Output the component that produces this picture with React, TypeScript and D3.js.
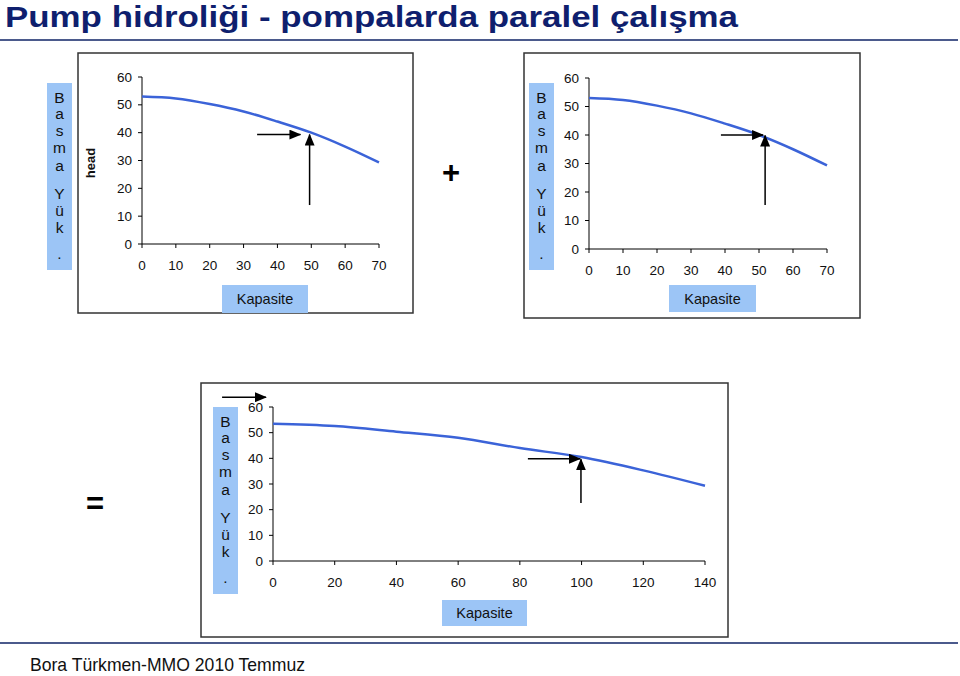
import React from "react";
import * as d3 from "d3";

// ---------- data ----------
const titleText = "Pump hidroliği - pompalarda paralel çalışma";
const footerText = "Bora Türkmen-MMO 2010 Temmuz";
const yLabelChars = ["B", "a", "s", "m", "a", "Y", "ü", "k", "."];
const xLabelText = "Kapasite";
const headText = "head";

const headTicks = [0, 10, 20, 30, 40, 50, 60];
const capTicksSingle = [0, 10, 20, 30, 40, 50, 60, 70];
const capTicksParallel = [0, 20, 40, 60, 80, 100, 120, 140];

const capSingle = [0, 10, 20, 30, 40, 50, 60, 70];
const headSingle = [53, 52.3, 50.3, 47.6, 44, 40, 35, 29.3];

const capParallel = [0, 20, 40, 60, 80, 100, 120, 140];
const headParallel = [53.5, 52.6, 50.4, 48, 44, 40.5, 35.3, 29.3];

// arrows in data coordinates
const arrows1 = [
  { x1: 34, y1: 39.3, x2: 46.8, y2: 39.3 },
  { x1: 49.5, y1: 14, x2: 49.5, y2: 39.3 },
];
const arrows2 = [
  { x1: 38.8, y1: 40, x2: 51.2, y2: 40 },
  { x1: 51.8, y1: 15.4, x2: 51.8, y2: 39.8 },
];
const arrows3 = [
  { x1: 82.6, y1: 39.8, x2: 99.5, y2: 39.8 },
  { x1: 99.8, y1: 22.6, x2: 99.8, y2: 39.6 },
  { x1: -16.5, y1: 63.8, x2: -2.3, y2: 63.8 },
];

// character vertical offsets inside the label box (layout)
const charOffsets = [20, 36, 53, 70, 88, 116, 133, 150, 176];

const FONT = "Arial, 'Liberation Sans', sans-serif";
const BLUE_BOX = "#9cc5f6";
const CURVE = "#3b63d8";

type ChartProps = {
  frame: { x: number; y: number; w: number; h: number };
  xr: [number, number];
  yr: [number, number];
  xMax: number;
  xTicks: number[];
  caps: number[];
  heads: number[];
  arrows: { x1: number; y1: number; x2: number; y2: number }[];
  labelBox: { x: number; y: number; w: number; h: number };
  kapBox: { x: number; y: number; w: number; h: number };
  head?: { x: number; y: number };
  fs: number;
};

function Chart(p: ChartProps) {
  const x = d3.scaleLinear().domain([0, p.xMax]).range(p.xr);
  const y = d3.scaleLinear().domain([0, 60]).range(p.yr);
  const pts: [number, number][] = p.caps.map((c, i) => [c, p.heads[i]]);
  const line = d3
    .line<[number, number]>()
    .x((d) => x(d[0]))
    .y((d) => y(d[1]))
    .curve(d3.curveMonotoneX);
  return (
    <g>
      <rect
        x={p.frame.x}
        y={p.frame.y}
        width={p.frame.w}
        height={p.frame.h}
        fill="white"
        stroke="#333"
        strokeWidth={1.5}
      />
      {/* y axis */}
      <line x1={x(0)} x2={x(0)} y1={y(0)} y2={y(60)} stroke="#000" strokeWidth={1} />
      {headTicks.map((t) => (
        <g key={"y" + t}>
          <line x1={x(0) - 4} x2={x(0)} y1={y(t)} y2={y(t)} stroke="#000" />
          <text
            x={x(0) - 10}
            y={y(t)}
            textAnchor="end"
            dominantBaseline="central"
            fontFamily={FONT}
            fontSize={p.fs}
            fill="#111"
          >
            {t}
          </text>
        </g>
      ))}
      {/* x axis */}
      <line x1={x(0)} x2={x(p.xMax)} y1={y(0)} y2={y(0)} stroke="#000" strokeWidth={1} />
      {p.xTicks.map((t) => (
        <g key={"x" + t}>
          <line x1={x(t)} x2={x(t)} y1={y(0)} y2={y(0) + 4} stroke="#000" />
          <text
            x={x(t)}
            y={y(0) + 21}
            textAnchor="middle"
            dominantBaseline="central"
            fontFamily={FONT}
            fontSize={p.fs}
            fill="#111"
          >
            {t}
          </text>
        </g>
      ))}
      {/* curve */}
      <path d={line(pts) || ""} fill="none" stroke={CURVE} strokeWidth={2.5} />
      {/* arrows */}
      {p.arrows.map((a, i) => (
        <line
          key={"a" + i}
          x1={x(a.x1)}
          y1={y(a.y1)}
          x2={x(a.x2)}
          y2={y(a.y2)}
          stroke="#000"
          strokeWidth={1.5}
          markerEnd="url(#arrowhead)"
        />
      ))}
      {/* vertical label box */}
      <rect x={p.labelBox.x} y={p.labelBox.y} width={p.labelBox.w} height={p.labelBox.h} fill={BLUE_BOX} />
      {yLabelChars.map((c, i) => (
        <text
          key={"c" + i}
          x={p.labelBox.x + p.labelBox.w / 2}
          y={p.labelBox.y + charOffsets[i]}
          textAnchor="middle"
          fontFamily={FONT}
          fontSize={15.5}
          fill="#111"
        >
          {c}
        </text>
      ))}
      {p.head && (
        <text
          transform={`translate(${p.head.x},${p.head.y}) rotate(-90)`}
          textAnchor="middle"
          dominantBaseline="central"
          fontFamily={FONT}
          fontWeight="bold"
          fontSize={13}
          fill="#111"
        >
          {headText}
        </text>
      )}
      {/* Kapasite box */}
      <rect x={p.kapBox.x} y={p.kapBox.y} width={p.kapBox.w} height={p.kapBox.h} fill={BLUE_BOX} />
      <text
        x={p.kapBox.x + p.kapBox.w / 2}
        y={p.kapBox.y + p.kapBox.h / 2}
        textAnchor="middle"
        dominantBaseline="central"
        fontFamily={FONT}
        fontSize={14.5}
        fill="#111"
      >
        {xLabelText}
      </text>
    </g>
  );
}

export default function App() {
  return (
    <svg
      width={960}
      height={676}
      style={{ position: "absolute", left: 0, top: 0, background: "white" }}
    >
      <defs>
        <marker
          id="arrowhead"
          markerUnits="userSpaceOnUse"
          markerWidth={12}
          markerHeight={10}
          refX={11}
          refY={5}
          orient="auto"
        >
          <path d="M0,0 L12,5 L0,10 Z" fill="#000" />
        </marker>
      </defs>
      <rect x={0} y={0} width={960} height={676} fill="white" />
      <text
        x={5}
        y={27}
        fontFamily={FONT}
        fontWeight="bold"
        fontSize={29.5}
        fill="#0f1f6e"
        textLength={733}
        lengthAdjust="spacingAndGlyphs"
      >
        {titleText}
      </text>
      <line x1={0} x2={958} y1={40} y2={40} stroke="#4b5a8c" strokeWidth={2} />

      <Chart
        frame={{ x: 78, y: 53, w: 335, h: 260 }}
        xr={[142, 379]}
        yr={[244, 77]}
        xMax={70}
        xTicks={capTicksSingle}
        caps={capSingle}
        heads={headSingle}
        arrows={arrows1}
        labelBox={{ x: 47, y: 83, w: 25, h: 187 }}
        kapBox={{ x: 222, y: 285, w: 86, h: 28 }}
        head={{ x: 90, y: 163 }}
        fs={13.5}
      />
      <text
        x={451}
        y={172}
        textAnchor="middle"
        dominantBaseline="central"
        fontFamily={FONT}
        fontWeight="bold"
        fontSize={31}
        fill="#000"
      >
        +
      </text>
      <Chart
        frame={{ x: 524, y: 53, w: 336, h: 265 }}
        xr={[589, 827]}
        yr={[249, 78]}
        xMax={70}
        xTicks={capTicksSingle}
        caps={capSingle}
        heads={headSingle}
        arrows={arrows2}
        labelBox={{ x: 529, y: 83, w: 25, h: 187 }}
        kapBox={{ x: 669, y: 285, w: 87, h: 27 }}
        fs={13.5}
      />
      <text
        x={95}
        y={503}
        textAnchor="middle"
        dominantBaseline="central"
        fontFamily={FONT}
        fontWeight="bold"
        fontSize={31}
        fill="#000"
      >
        =
      </text>
      <Chart
        frame={{ x: 201, y: 383, w: 527, h: 254 }}
        xr={[273, 705]}
        yr={[561, 407]}
        xMax={140}
        xTicks={capTicksParallel}
        caps={capParallel}
        heads={headParallel}
        arrows={arrows3}
        labelBox={{ x: 213, y: 407, w: 25, h: 187 }}
        kapBox={{ x: 442, y: 600, w: 85, h: 26 }}
        fs={13.5}
      />

      <line x1={0} x2={958} y1={643} y2={643} stroke="#4b5a8c" strokeWidth={2} />
      <text
        x={30}
        y={671}
        fontFamily={FONT}
        fontSize={18.5}
        fill="#111"
        textLength={275}
        lengthAdjust="spacingAndGlyphs"
      >
        {footerText}
      </text>
    </svg>
  );
}
